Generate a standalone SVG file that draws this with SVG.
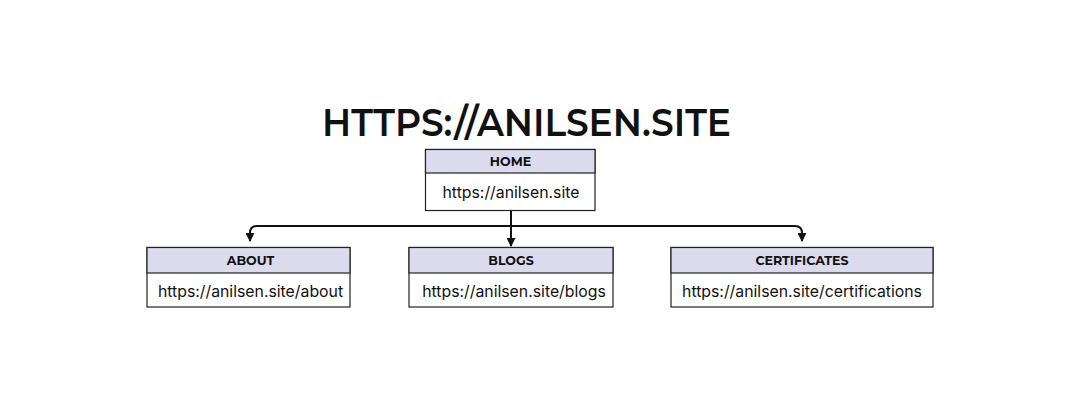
<svg xmlns="http://www.w3.org/2000/svg" width="1080" height="400" viewBox="0 0 1080 400">
<style>
.box{fill:#ffffff;stroke:#222;stroke-width:1.2}
.hdr{fill:#dcdbee;stroke:#222;stroke-width:1.2}
.h{font-family:"Montserrat","Inter","DejaVu Sans",sans-serif;font-weight:700;font-size:12.6px;fill:#111;text-anchor:middle}
.u{font-family:"Inter","Liberation Sans",sans-serif;font-size:15.8px;fill:#111;text-anchor:middle}
.title{font-family:"Montserrat","Inter","DejaVu Sans",sans-serif;font-weight:600;font-size:39px;fill:#111;text-anchor:middle}
.c{fill:none;stroke:#111;stroke-width:2}
</style>
<defs>
<marker id="ah" viewBox="0 0 10 10" refX="5" refY="9" markerWidth="9" markerHeight="9" markerUnits="userSpaceOnUse">
<path d="M0,0 L10,0 L5,10 Z" fill="#111"/>
</marker>
</defs>
<rect width="1080" height="400" fill="#ffffff"/>
<text class="title" x="526.5" y="136" textLength="409" lengthAdjust="spacingAndGlyphs">HTTPS://ANILSEN.SITE</text>
<g id="connectors">
<path class="c" d="M511,211 V226"/>
<path class="c" d="M511,226 H257 Q250,226 250,233 V241" marker-end="url(#ah)"/>
<path class="c" d="M511,226 H795 Q802,226 802,233 V241" marker-end="url(#ah)"/>
<path class="c" d="M511,226 V246" marker-end="url(#ah)"/>
</g>
<g id="home">
<rect class="box" x="425.5" y="149.5" width="169.5" height="61"/>
<rect class="hdr" x="425.5" y="149.5" width="169.5" height="23.5"/>
<text class="h" x="510.5" y="166">HOME</text>
<text class="u" x="511" y="197.5">https://anilsen.site</text>
</g>
<g id="about">
<rect class="box" x="147" y="247.5" width="203" height="59.5"/>
<rect class="hdr" x="147" y="247.5" width="203" height="25.5"/>
<text class="h" x="250.5" y="265">ABOUT</text>
<text class="u" x="250.5" y="296.5">https://anilsen.site/about</text>
</g>
<g id="blogs">
<rect class="box" x="409" y="247.5" width="204" height="59.5"/>
<rect class="hdr" x="409" y="247.5" width="204" height="25.5"/>
<text class="h" x="511" y="265">BLOGS</text>
<text class="u" x="514" y="296.5">https://anilsen.site/blogs</text>
</g>
<g id="certificates">
<rect class="box" x="671" y="247.5" width="262" height="59.5"/>
<rect class="hdr" x="671" y="247.5" width="262" height="25.5"/>
<text class="h" x="802" y="265">CERTIFICATES</text>
<text class="u" x="802" y="296.5">https://anilsen.site/certifications</text>
</g>
</svg>
